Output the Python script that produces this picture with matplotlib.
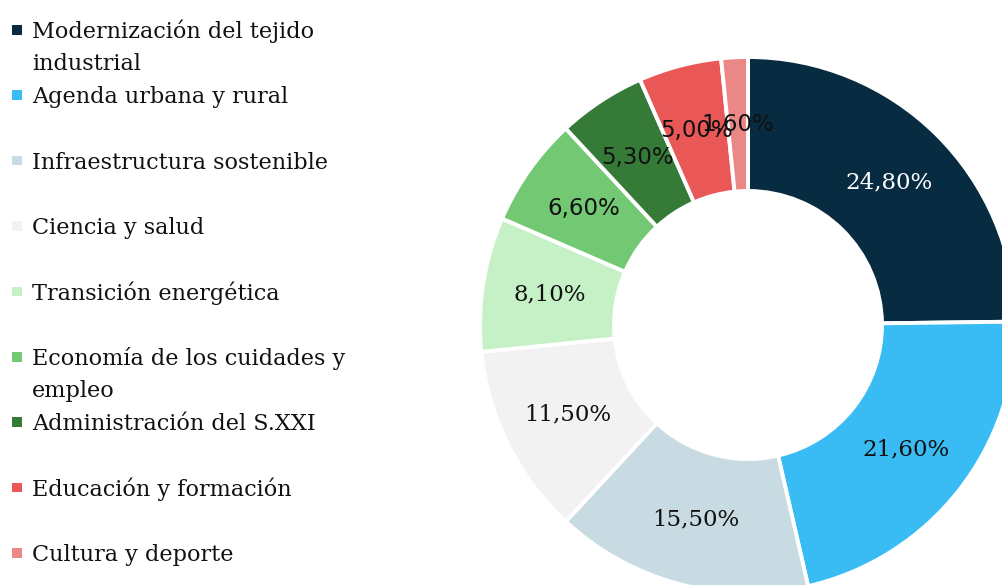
import matplotlib
matplotlib.use("Agg")
import matplotlib.pyplot as plt
from matplotlib.patches import Rectangle
import numpy as np

categories = [
    "Modernización del tejido\nindustrial",
    "Agenda urbana y rural",
    "Infraestructura sostenible",
    "Ciencia y salud",
    "Transición energética",
    "Economía de los cuidades y\nempleo",
    "Administración del S.XXI",
    "Educación y formación",
    "Cultura y deporte",
]
values = [24.8, 21.6, 15.5, 11.5, 8.1, 6.6, 5.3, 5.0, 1.6]
value_labels = ["24,80%", "21,60%", "15,50%", "11,50%", "8,10%",
                "6,60%", "5,30%", "5,00%", "1,60%"]

colors = ["#072B40", "#39BBF3", "#C8DAE2", "#F2F2F2", "#C6F1C6",
          "#72C873", "#357B37", "#EA5757", "#EB8787"]
label_colors = ["white"] + ["#111111"] * 8
label_families = ["DejaVu Serif"] * 5 + ["DejaVu Sans"] * 4

W, H = 1002, 585
fig = plt.figure(figsize=(W / 100, H / 100), dpi=100)
ax = fig.add_axes([0, 0, 1, 1])

cx, cy = 748, H - 325
R = 268
width = 134

ax.pie(values, colors=colors, startangle=90, counterclock=False,
       radius=R, center=(cx, cy), frame=True,
       wedgeprops=dict(width=width, edgecolor="white", linewidth=2.8))
ax.set_xlim(0, W)
ax.set_ylim(0, H)
ax.set_aspect("equal")
ax.axis("off")

total = sum(values)
cum = 0.0
rm = R - width / 2
for v, lab, col, fam in zip(values, value_labels, label_colors, label_families):
    mid = (cum + v / 2) / total * 360.0
    cum += v
    ang = np.deg2rad(90 - mid)
    x = cx + rm * np.cos(ang)
    y = cy + rm * np.sin(ang)
    ax.text(x, y, lab, ha="center", va="center", color=col,
            fontsize=16.5, family=fam)

# legend
base0 = 38
step = 65.4
line_h = 31.5
for i, (cat, col) in enumerate(zip(categories, colors)):
    b = base0 + i * step
    ax.add_patch(Rectangle((12.5, H - (b - 3.5)), 9.5, 9.5,
                           facecolor=col, edgecolor="none"))
    for k, line in enumerate(cat.split("\n")):
        ax.text(32, H - (b + k * line_h), line, ha="left", va="baseline",
                fontsize=16.1, family="DejaVu Serif", color="#111111")

fig.savefig("out.png", dpi=100)
